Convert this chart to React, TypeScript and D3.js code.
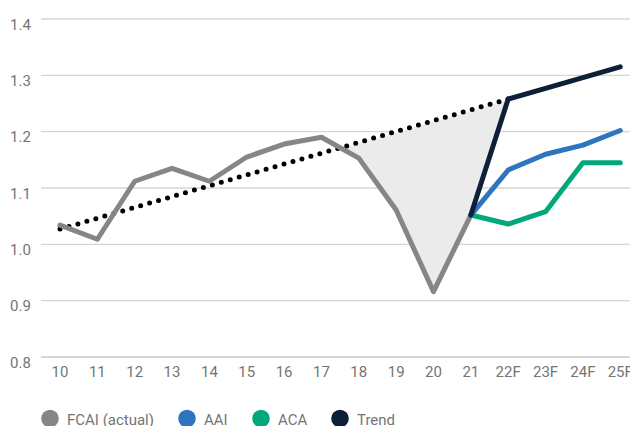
import React from "react";
import * as d3 from "d3";

const categories = ["10","11","12","13","14","15","16","17","18","19","20","21","22F","23F","24F","25F"];
const yTicks = [0.8, 0.9, 1.0, 1.1, 1.2, 1.3, 1.4];

const fcaiCats = ["10","11","12","13","14","15","16","17","18","19","20","21"];
const fcaiVals = [1.034, 1.009, 1.112, 1.135, 1.112, 1.155, 1.178, 1.190, 1.153, 1.061, 0.916, 1.052];

const fcCats = ["21","22F","23F","24F","25F"];
const aaiVals = [1.052, 1.132, 1.160, 1.176, 1.202];
const acaVals = [1.052, 1.036, 1.058, 1.145, 1.145];
const trendVals = [1.052, 1.258, 1.277, 1.296, 1.315];

const preTrendCats = ["10", "22F"];
const preTrendVals = [1.027, 1.258];

const legendLabels = ["FCAI (actual)", "AAI", "ACA", "Trend"];
const colors = { fcai: "#868686", aai: "#2e74bf", aca: "#00a87b", trend: "#0e1f38" };
const legendColors = [colors.fcai, colors.aai, colors.aca, colors.trend];

const W = 630, H = 426;

export default function App() {
  const x = d3.scalePoint<string>().domain(categories).range([60, 60 + 15 * 37.35]);
  const y = d3.scaleLinear().domain([0.8, 1.4]).range([357, 19]);

  type P = [number, number];
  const line = d3.line<P>().x(d => d[0]).y(d => d[1]);

  const fcaiPts: P[] = fcaiCats.map((c, i) => [x(c)!, y(fcaiVals[i])]);
  const aaiPts: P[] = fcCats.map((c, i) => [x(c)!, y(aaiVals[i])]);
  const acaPts: P[] = fcCats.map((c, i) => [x(c)!, y(acaVals[i])]);
  const trendPts: P[] = fcCats.map((c, i) => [x(c)!, y(trendVals[i])]);
  const prePts: P[] = preTrendCats.map((c, i) => [x(c)!, y(preTrendVals[i])]);

  // fill between pre-trend line and actual from their crossing to 22F
  const preY = (px: number) => {
    const [a, b] = prePts;
    return a[1] + (b[1] - a[1]) * (px - a[0]) / (b[0] - a[0]);
  };
  let cross: P | null = null;
  let crossIdx = 0;
  for (let i = fcaiPts.length - 2; i >= 0; i--) {
    const p0 = fcaiPts[i], p1 = fcaiPts[i + 1];
    const d0 = p0[1] - preY(p0[0]);
    const d1 = p1[1] - preY(p1[0]);
    if (d0 <= 0 && d1 > 0) {
      const t = d0 / (d0 - d1);
      cross = [p0[0] + t * (p1[0] - p0[0]), p0[1] + t * (p1[1] - p0[1])];
      crossIdx = i + 1;
      break;
    }
  }
  const fillPts: P[] = [];
  if (cross) {
    fillPts.push(cross);
    fillPts.push(prePts[1]);
    for (let i = fcaiPts.length - 1; i >= crossIdx; i--) fillPts.push(fcaiPts[i]);
  }
  const fillPath = d3.line<P>().x(d => d[0]).y(d => d[1])(fillPts) + "Z";

  const font = "Roboto, sans-serif";
  const legendX = [50, 187, 261, 340];

  return (
    <svg width={W} height={H} style={{ position: "absolute", left: 0, top: 0, background: "#fff" }}>
      {yTicks.map(t => (
        <g key={t}>
          <line x1={41} x2={W} y1={y(t)} y2={y(t)} stroke={t === 0.8 ? "#c8c8c8" : "#d6d6d6"} strokeWidth={1.3} />
          <text x={10} y={y(t) + 10.5} fontFamily={font} fontSize={15} fill="#757575">{t.toFixed(1)}</text>
        </g>
      ))}
      {categories.map(c => (
        <text key={c} x={x(c)} y={377} textAnchor="middle" fontFamily={font} fontSize={15} fill="#757575">{c}</text>
      ))}
      <path d={fillPath} fill="#ebebeb" stroke="#fff" strokeWidth={2} strokeLinejoin="round" />
      <path d={line(prePts)!} fill="none" stroke="#000" strokeWidth={5} strokeLinecap="round" strokeDasharray="0 9.33" />
      <path d={line(fcaiPts)!} fill="none" stroke={colors.fcai} strokeWidth={5} strokeLinejoin="round" strokeLinecap="round" />
      <path d={line(acaPts)!} fill="none" stroke={colors.aca} strokeWidth={5} strokeLinejoin="round" strokeLinecap="round" />
      <path d={line(aaiPts)!} fill="none" stroke={colors.aai} strokeWidth={5} strokeLinejoin="round" strokeLinecap="round" />
      <path d={line(trendPts)!} fill="none" stroke={colors.trend} strokeWidth={5} strokeLinejoin="round" strokeLinecap="round" />
      {legendLabels.map((l, i) => (
        <g key={l}>
          <circle cx={legendX[i]} cy={418.5} r={8.8} fill={legendColors[i]} />
          <text x={legendX[i] + 17} y={424.5} fontFamily={font} fontSize={15} fill="#757575">{l}</text>
        </g>
      ))}
    </svg>
  );
}
